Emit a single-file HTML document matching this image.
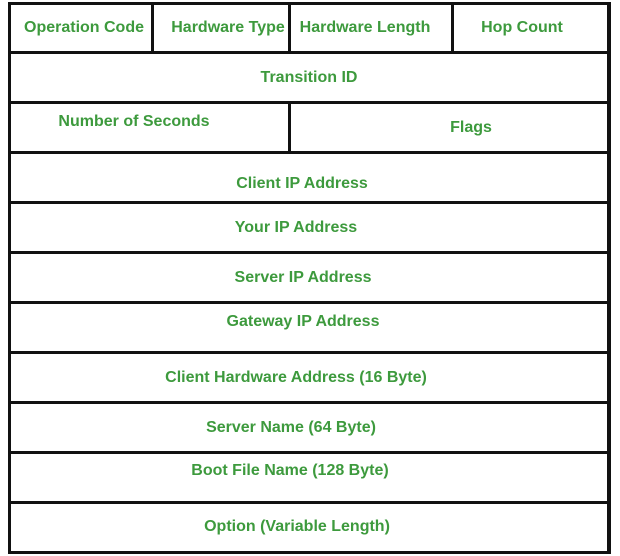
<!DOCTYPE html>
<html><head><style>
body{margin:0;width:620px;height:556px;background:#fff;position:relative;overflow:hidden;font-family:"Liberation Sans",Arial,sans-serif}
.l{position:absolute;background:#111}
.t{position:absolute;color:#3d9a3d;font-weight:bold;font-size:16px;white-space:nowrap;transform:translate(-50%,-50%);margin-top:1px}
</style></head><body>
<div class="l" style="left:8px;top:2px;width:603px;height:3px"></div>
<div class="l" style="left:8px;top:551px;width:603px;height:3px"></div>
<div class="l" style="left:8px;top:2px;width:3px;height:552px"></div>
<div class="l" style="left:607px;top:2px;width:4px;height:552px"></div>
<div class="l" style="left:8px;top:51px;width:603px;height:3px"></div>
<div class="l" style="left:8px;top:101px;width:603px;height:3px"></div>
<div class="l" style="left:8px;top:151px;width:603px;height:3px"></div>
<div class="l" style="left:8px;top:201px;width:603px;height:3px"></div>
<div class="l" style="left:8px;top:251px;width:603px;height:3px"></div>
<div class="l" style="left:8px;top:301px;width:603px;height:3px"></div>
<div class="l" style="left:8px;top:351px;width:603px;height:3px"></div>
<div class="l" style="left:8px;top:401px;width:603px;height:3px"></div>
<div class="l" style="left:8px;top:451px;width:603px;height:3px"></div>
<div class="l" style="left:8px;top:501px;width:603px;height:3px"></div>
<div class="l" style="left:151px;top:2px;width:3px;height:51px"></div>
<div class="l" style="left:288px;top:2px;width:3px;height:51px"></div>
<div class="l" style="left:451px;top:2px;width:3px;height:51px"></div>
<div class="l" style="left:288px;top:102px;width:3px;height:51px"></div>
<div class="t" style="left:84px;top:27px">Operation Code</div>
<div class="t" style="left:228px;top:27px">Hardware Type</div>
<div class="t" style="left:365px;top:27px">Hardware Length</div>
<div class="t" style="left:522px;top:27px">Hop Count</div>
<div class="t" style="left:309px;top:77px">Transition ID</div>
<div class="t" style="left:134px;top:121px">Number of Seconds</div>
<div class="t" style="left:471px;top:127px">Flags</div>
<div class="t" style="left:302px;top:183px">Client IP Address</div>
<div class="t" style="left:296px;top:227px">Your IP Address</div>
<div class="t" style="left:303px;top:277px">Server IP Address</div>
<div class="t" style="left:303px;top:321px">Gateway IP Address</div>
<div class="t" style="left:296px;top:377px">Client Hardware Address (16 Byte)</div>
<div class="t" style="left:291px;top:427px">Server Name (64 Byte)</div>
<div class="t" style="left:290px;top:470px">Boot File Name (128 Byte)</div>
<div class="t" style="left:297px;top:526px">Option (Variable Length)</div>
</body></html>
